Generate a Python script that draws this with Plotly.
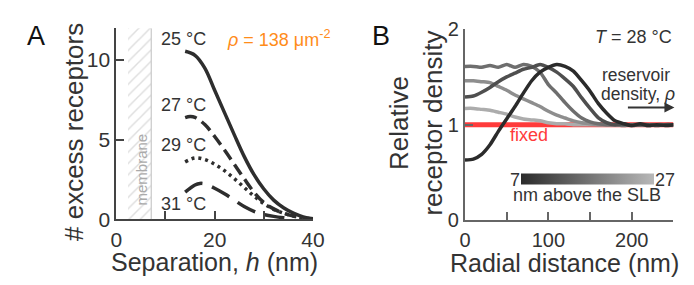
import plotly.graph_objects as go

W, H = 694, 285
FONT = "Liberation Sans, Arial, sans-serif"

# ---------------- Panel A data ----------------
h_25 = [14, 16, 18, 20, 22, 24, 26, 28, 30, 32, 34, 36, 38, 40]
n_25 = [10.55, 10.3, 9.5, 8.1, 6.7, 5.3, 3.95, 2.8, 1.9, 1.2, 0.72, 0.38, 0.15, 0.03]
h_27 = [14, 15, 16, 18, 20, 22, 24, 26, 28, 30, 32, 34, 36, 38, 40]
n_27 = [6.38, 6.45, 6.4, 5.95, 5.2, 4.35, 3.45, 2.55, 1.7, 1.05, 0.65, 0.38, 0.2, 0.08, 0.02]
h_29 = [14, 16, 18, 20, 22, 24, 26, 28, 30, 32, 34, 36, 38, 40]
n_29 = [3.6, 3.85, 3.75, 3.45, 3.05, 2.55, 2.0, 1.45, 0.98, 0.62, 0.38, 0.2, 0.08, 0.02]
h_31 = [14, 16, 17, 18, 20, 22, 24, 26, 28, 30, 32, 34, 36]
n_31 = [1.7, 2.15, 2.25, 2.22, 1.95, 1.6, 1.2, 0.8, 0.5, 0.3, 0.18, 0.1, 0.05]
temps_A = ["25 °C", "27 °C", "29 °C", "31 °C"]
membrane_start, membrane_end = 2.4, 7.1
xticks_A = [0, 10, 20, 30, 40]
xticktext_A = ["0", "", "20", "", "40"]
yticks_A = [0, 5, 10]

# ---------------- Panel B data ----------------
r_nm = [0, 10, 20, 30, 40, 50, 60, 70, 80, 90, 100, 110, 120, 130, 140, 150,
        160, 170, 180, 190, 200, 210, 220, 230, 240, 250]
d_7 = [0.63, 0.64, 0.69, 0.79, 0.93, 1.06, 1.19, 1.33, 1.46, 1.55, 1.60, 1.63, 1.61,
       1.56, 1.46, 1.35, 1.22, 1.12, 1.04, 1.01, 0.99, 1.01, 0.99, 1.00, 0.99, 1.00]
d_12 = [1.29, 1.30, 1.34, 1.39, 1.45, 1.50, 1.54, 1.58, 1.60, 1.63, 1.60, 1.55, 1.48,
        1.40, 1.28, 1.17, 1.07, 1.02, 1.00, 1.01, 0.99, 1.00, 1.00, 0.99, 1.00, 1.00]
d_17 = [1.61, 1.61, 1.60, 1.62, 1.60, 1.63, 1.60, 1.63, 1.61, 1.55, 1.42, 1.33, 1.23,
        1.14, 1.07, 1.03, 1.01, 1.00, 1.00, 0.99, 1.00, 1.00, 0.99, 1.00, 1.00, 1.00]
d_22 = [1.46, 1.46, 1.45, 1.44, 1.40, 1.36, 1.31, 1.27, 1.23, 1.19, 1.14, 1.10, 1.07,
        1.04, 1.02, 1.01, 1.00, 1.00, 1.00, 1.00, 1.00, 1.00, 1.00, 1.00, 1.00, 1.00]
d_27 = [1.17, 1.17, 1.16, 1.15, 1.13, 1.11, 1.08, 1.06, 1.05, 1.04, 1.02, 1.01, 1.01,
        1.00, 1.00, 1.00, 1.00, 1.00, 1.00, 1.00, 1.00, 1.00, 1.00, 1.00, 1.00, 1.00]
d_fixed = [1.0] * len(r_nm)
heights_B = [7, 12, 17, 22, 27]
xticks_B = [0, 50, 100, 150, 200, 250]
xticktext_B = ["0", "", "100", "", "200", ""]
yticks_B = [0, 1, 2]


def X(px):
    return px / W


def Y(py):
    return 1 - py / H


fig = go.Figure()

# membrane hatch
fig.add_trace(go.Bar(
    x=[(membrane_start + membrane_end) / 2], y=[12], width=[membrane_end - membrane_start],
    base=0, xaxis="x", yaxis="y", showlegend=False, hoverinfo="skip",
    marker=dict(color="white", line=dict(width=0),
                pattern=dict(shape="/", fgcolor="#bdbdbd", bgcolor="white", size=8, solidity=0.18)),
))

dark = "#2e2e2e"
for hh, nn, dash in [(h_25, n_25, "solid"), (h_27, n_27, "12px,6px"),
                     (h_29, n_29, "3px,4px"), (h_31, n_31, "20px,10px")]:
    fig.add_trace(go.Scatter(x=hh, y=nn, mode="lines", xaxis="x", yaxis="y",
                             line=dict(color=dark, width=3.5, dash=dash, shape="spline"),
                             showlegend=False))

# Panel B
fig.add_trace(go.Scatter(x=r_nm, y=d_fixed, mode="lines", xaxis="x2", yaxis="y2",
                         line=dict(color="#ff3b3b", width=5), showlegend=False))
greys = {7: "#2b2b2b", 12: "#4f4f4f", 17: "#6e6e6e", 22: "#8e8e8e", 27: "#acacac"}
series_B = {7: d_7, 12: d_12, 17: d_17, 22: d_22, 27: d_27}
for hgt in heights_B[::-1]:
    fig.add_trace(go.Scatter(x=r_nm, y=series_B[hgt], mode="lines", xaxis="x2", yaxis="y2",
                             line=dict(color=greys[hgt], width=3.5, shape="spline", smoothing=0.6),
                             showlegend=False))

# colour bar for heights
fig.add_trace(go.Scatter(
    x=[None, None], y=[None, None], mode="markers", xaxis="x2", yaxis="y2", showlegend=False,
    marker=dict(color=[heights_B[0], heights_B[-1]], cmin=heights_B[0], cmax=heights_B[-1],
                colorscale=[[0, "#2b2b2b"], [1, "#b8b8b8"]], showscale=True,
                colorbar=dict(orientation="h", x=X(588.5), y=Y(173.5), xanchor="center",
                              yanchor="middle", lenmode="pixels", len=133,
                              thicknessmode="pixels", thickness=11, outlinewidth=0,
                              showticklabels=False, ticks="", xpad=0, ypad=0)),
))

common = dict(showgrid=False, zeroline=False, showline=True, linewidth=2,
              ticks="inside", ticklen=8, tickwidth=2, fixedrange=True)
fontA = dict(family=FONT, size=21, color="#333")
fontB = dict(family=FONT, size=20, color="#333")

fig.update_layout(
    width=W, height=H, margin=dict(l=0, r=0, t=0, b=0),
    paper_bgcolor="white", plot_bgcolor="white", showlegend=False, bargap=0,
    xaxis=dict(domain=[X(105), X(307)], range=[0, 40], tickvals=xticks_A, ticktext=xticktext_A,
               linecolor="#444", tickcolor="#444", anchor="y", tickfont=fontA,
               ticklabelstandoff=1, **common),
    yaxis=dict(domain=[Y(217), Y(10)], range=[0, 12], tickvals=yticks_A, linecolor="#444",
               tickcolor="#444", anchor="x", tickfont=fontA, **common),
    xaxis2=dict(domain=[X(463), X(677)], range=[0, 250], tickvals=xticks_B, ticktext=xticktext_B,
                linecolor="#666", tickcolor="#666", anchor="y2", tickfont=fontB,
                ticklabelstandoff=1, **common),
    yaxis2=dict(domain=[Y(218), Y(11)], range=[0, 2], tickvals=yticks_B, linecolor="#666",
                tickcolor="#666", anchor="x2", tickfont=fontB, **common),
    shapes=[dict(type="line", xref="x", yref="y", x0=membrane_end, x1=membrane_end, y0=0, y1=12,
                 line=dict(color="#bdbdbd", width=1))],
)

def ann(text, px, py, size=18, color="#333", xanchor="center", yanchor="middle", angle=0, align="center"):
    fig.add_annotation(text=text, x=X(px), y=Y(py), xref="paper", yref="paper", showarrow=False,
                       xanchor=xanchor, yanchor=yanchor, textangle=angle, align=align,
                       font=dict(family=FONT, size=size, color=color))

# panel letters
ann("A", 22.5, 18, size=27, color="#111")
ann("B", 376.5, 18, size=27, color="#111")

# Panel A texts
for t, py in zip(temps_A, [22, 93, 137, 200.5]):
    ann(t, 173.5, py, size=18)
ann("<i>ρ</i> = 138 μm<sup>-2</sup>", 271.5, 21, size=18, color="#ff8c1a")
ann("membrane", 130.5, 163, size=15, color="#aaaaaa", angle=-90)
ann("Separation, <i>h</i> (nm)", 206, 263, size=25)
ann("# excess receptors", 61, 122, size=26, angle=-90)

# Panel B texts
ann("<i>T</i> = 28 °C", 678, 20, size=18, xanchor="right")
ann("reservoir", 676, 61, size=17.5, xanchor="right")
ann("density, <i>ρ</i>", 681, 81, size=17.5, xanchor="right")
ann("fixed", 529, 126, size=18, color="#ff3b3b")
ann("7", 514, 174, size=18)
ann("27", 668, 174, size=18)
ann("nm above the SLB", 588, 191, size=18)
ann("Radial distance (nm)", 565, 264, size=25)
ann("Relative<br>receptor density", 413, 113, size=26, angle=-90)

fig.add_annotation(x=X(678), y=Y(96), xref="paper", yref="paper", ax=-48, ay=0,
                   axref="pixel", ayref="pixel", text="", showarrow=True,
                   arrowhead=2, arrowsize=1, arrowwidth=2, arrowcolor="#333")

fig.write_html("out.html")
